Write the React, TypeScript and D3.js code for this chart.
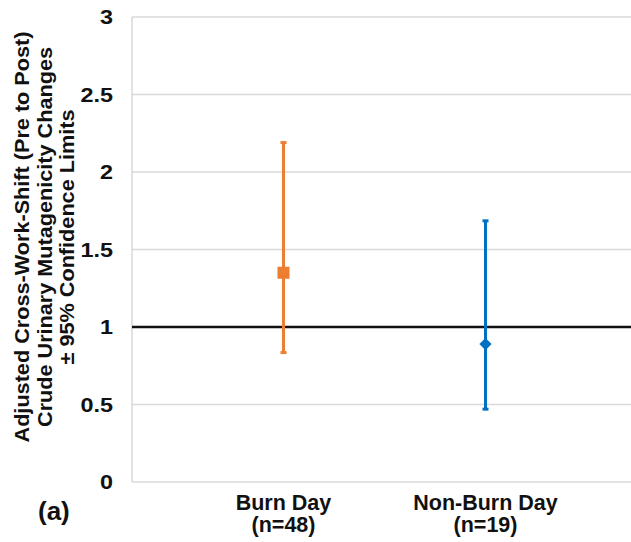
import React from "react";
import * as d3 from "d3";

const categories = ["Burn Day", "Non-Burn Day"];
const sampleSizes = ["(n=48)", "(n=19)"];
const estimates = [1.35, 0.89];
const lowerLimits = [0.835, 0.47];
const upperLimits = [2.19, 1.685];
const xPositions = [1.5, 3.5];
const yTicks = [0, 0.5, 1, 1.5, 2, 2.5, 3];
const yTickLabels = ["0", "0.5", "1", "1.5", "2", "2.5", "3"];
const referenceValue = 1;
const titleLines = [
  "Adjusted Cross-Work-Shift (Pre to Post)",
  "Crude Urinary Mutagenicity Changes",
  "± 95% Confidence Limits",
];
const titleLengths = [411, 380, 255];
const colors = ["#ED7D31", "#0070C0"];

const W = 631;
const H = 542;
const L = 132;
const R = 631;
const T = 17;
const B = 482;

export default function App() {
  const y = d3.scaleLinear().domain([0, 3]).range([B, T]);
  const x = d3.scaleLinear().domain([0, 5]).range([L, L + 505]);
  const font = "Arial, 'Liberation Sans', Helvetica, sans-serif";
  const diamond = d3.symbol().type(d3.symbolDiamond2).size(95)();
  return (
    <div style={{ position: "absolute", left: 0, top: 0 }}>
      <svg width={W} height={H} style={{ display: "block" }} fontFamily={font}>
        <rect width={W} height={H} fill="#fff" />
        {yTicks.map((t) => (
          <line key={t} x1={L} x2={R} y1={y(t)} y2={y(t)} stroke="#d9d9d9" strokeWidth={1.5} />
        ))}
        <line x1={L} x2={L} y1={T} y2={B} stroke="#d9d9d9" strokeWidth={1.5} />
        <line x1={L} x2={R} y1={y(referenceValue)} y2={y(referenceValue)} stroke="#111" strokeWidth={2.5} />
        {yTicks.map((t, i) => (
          <text
            key={t}
            transform={`translate(113,${y(t)}) scale(1.2,1)`}
            dy="0.36em"
            textAnchor="end"
            fontSize={19.5}
            fontWeight="bold"
            fill="#111"
          >
            {yTickLabels[i]}
          </text>
        ))}
        {categories.map((c, i) => {
          const cx = x(xPositions[i]);
          return (
            <g key={c}>
              <line x1={cx} x2={cx} y1={y(lowerLimits[i])} y2={y(upperLimits[i])} stroke={colors[i]} strokeWidth={3} />
              <line x1={cx - 3} x2={cx + 3} y1={y(lowerLimits[i])} y2={y(lowerLimits[i])} stroke={colors[i]} strokeWidth={3} />
              <line x1={cx - 3} x2={cx + 3} y1={y(upperLimits[i])} y2={y(upperLimits[i])} stroke={colors[i]} strokeWidth={3} />
              {i === 0 ? (
                <rect x={cx - 6} y={y(estimates[i]) - 6} width={12} height={12} fill={colors[i]} />
              ) : (
                <path d={diamond || ""} transform={`translate(${cx},${y(estimates[i])})`} fill={colors[i]} />
              )}
              <text x={cx} y={510} textAnchor="middle" fontSize={21.5} fontWeight="bold" fill="#111">
                {c}
              </text>
              <text x={cx} y={532} textAnchor="middle" fontSize={21.5} fontWeight="bold" fill="#111">
                {sampleSizes[i]}
              </text>
            </g>
          );
        })}
        {titleLines.map((line, i) => (
          <text
            key={line}
            transform={`translate(${29 + i * 22.5},237) rotate(-90)`}
            textAnchor="middle"
            fontSize={20}
            fontWeight="bold"
            fill="#111"
            textLength={titleLengths[i]}
            lengthAdjust="spacingAndGlyphs"
          >
            {line}
          </text>
        ))}
        <text x={38} y={520} fontSize={26} fontWeight="bold" fill="#111">
          (a)
        </text>
      </svg>
    </div>
  );
}
